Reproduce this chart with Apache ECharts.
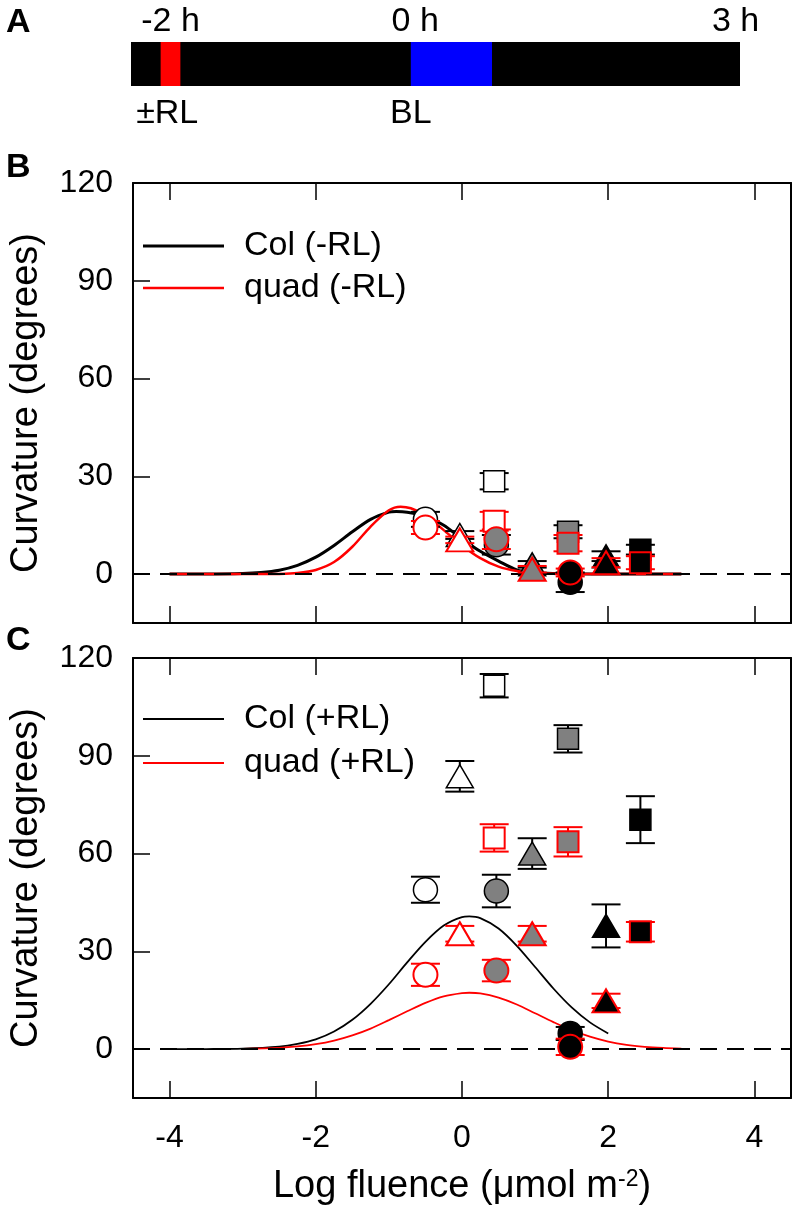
<!DOCTYPE html>
<html><head><meta charset="utf-8">
<script src="https://cdn.jsdelivr.net/npm/echarts@6/dist/echarts.min.js"></script>
<style>html,body{margin:0;padding:0;background:#fff}#c{width:793px;height:1213px}</style>
</head><body><div id="c"></div>
<script>
// ---------- Panel A: light schedule (hours) ----------
const timelineExtent = [-2.55, 3];
const redPulse = [-2.28, -2.10];
const bluePulse = [0, 0.74];
const timeLabelText = ['-2 h', '0 h', '3 h'];
const timeLabelAt = [-2.19, 0.04, 2.96];
const lightLabelText = ['\u00b1RL', 'BL'];
const lightLabelAt = [-2.22, 0.0];

// ---------- Panels B & C ----------
const xTicks = [-4, -2, 0, 2, 4];
const yTicks = [0, 30, 60, 90, 120];
// log fluence of each treatment (open/grey/black circle, triangle, square)
const groupX = [-0.5, -0.03, 0.44, 0.47, 0.96, 1.45, 1.48, 1.97, 2.44];

// B: without red light
const colMinusRL = [16.8, 12.0, 28.5, 9.0, 3.0, 13.0, -2.5, 5.5, 7.5];
const colMinusRLErr = [2.3, 1.2, 2.5, 3.0, 1.0, 2.0, 3.0, 1.5, 1.5];
const quadMinusRL = [14.3, 10.5, 16.2, 10.7, 1.5, 9.5, 0.5, 3.5, 3.5];
const quadMinusRLErr = [2.0, 1.0, 2.9, 3.0, 1.0, 2.5, 1.2, 1.4, 2.0];

// C: with red light
const colPlusRL = [48.9, 83.7, 111.5, 48.5, 60.0, 95.2, 4.8, 37.8, 70.4];
const colPlusRLErr = [4.0, 4.7, 3.6, 5.0, 4.7, 4.2, 2.0, 6.6, 7.2];
const quadPlusRL = [22.8, 35.4, 64.8, 24.1, 35.4, 63.6, 0.7, 14.8, 36.0];
const quadPlusRLErr = [3.4, 2.4, 4.2, 3.3, 2.4, 4.5, 2.5, 2.2, 3.0];

// fitted curves
const fitColMinusX = [-4, -3.5, -3, -2.75, -2.5, -2.25, -2, -1.75, -1.5, -1.25, -1, -0.9, -0.75, -0.5, -0.25, 0, 0.25, 0.5, 0.75, 1, 1.25, 1.5, 2, 3];
const fitColMinusY = [0, 0.01, 0.16, 0.47, 1.2, 2.7, 5.2, 8.8, 13.0, 16.8, 19.0, 19.2, 19.0, 17.8, 15.0, 10.8, 7.0, 4.0, 1.3, 0.5, 0.2, 0.1, 0, 0];
const fitQuadMinusX = [-4, -3, -2.5, -2.25, -2, -1.75, -1.5, -1.25, -1, -0.84, -0.7, -0.5, -0.25, 0, 0.25, 0.5, 0.75, 1, 1.25, 1.5, 3];
const fitQuadMinusY = [0, 0, 0.07, 0.33, 1.26, 3.7, 8.4, 14.6, 19.6, 20.7, 20.2, 18.0, 13.5, 8.8, 4.9, 2.3, 0.95, 0.33, 0.1, 0.03, 0];
const fitColPlusX = [-4, -3.5, -3, -2.5, -2.25, -2, -1.75, -1.5, -1.25, -1, -0.75, -0.5, -0.25, 0, 0.1, 0.25, 0.5, 0.75, 1, 1.25, 1.5, 1.75, 2];
const fitColPlusY = [0, 0.02, 0.14, 0.75, 1.6, 3.0, 5.4, 9.0, 13.9, 19.9, 26.6, 32.9, 37.9, 40.5, 40.7, 40.2, 37.0, 31.7, 25.2, 18.6, 12.8, 8.2, 4.8];
const fitQuadPlusX = [-3, -2.5, -2.25, -2, -1.75, -1.5, -1.25, -1, -0.75, -0.5, -0.25, 0, 0.1, 0.25, 0.5, 0.75, 1, 1.25, 1.5, 1.75, 2, 2.25, 2.5, 2.75, 3];
const fitQuadPlusY = [0.08, 0.41, 0.81, 1.5, 2.6, 4.2, 6.3, 8.9, 11.6, 14.2, 16.2, 17.2, 17.3, 17.1, 15.8, 13.7, 11.0, 8.3, 5.8, 3.8, 2.3, 1.3, 0.7, 0.35, 0.16];

// ---------- styling ----------
const FONT = '"Liberation Sans", Arial, Helvetica, sans-serif';
const RED = '#ff0000';
const markerSymbol = ['circle','triangle','rect','circle','triangle','rect','circle','triangle','rect'];
const markerFill = ['#ffffff','#ffffff','#ffffff','#808080','#808080','#808080','#000000','#000000','#000000'];
const symbolSizeFor = {circle: 24, triangle: [27, 23], rect: 21};

const pairs = (xs, ys) => xs.map((x, i) => [x, ys[i]]);
const markerData = vals => vals.map((v, i) => ({
  value: [groupX[i], v], symbol: markerSymbol[i], symbolSize: symbolSizeFor[markerSymbol[i]],
  itemStyle: {color: markerFill[i]}
}));
const errData = (vals, errs) => vals.map((v, i) => [groupX[i], v - errs[i], v + errs[i]]);

function errSeries(ax, vals, errs, color, lw, z) {
  return {
    type: 'custom', xAxisIndex: ax, yAxisIndex: ax, z: z, silent: true,
    data: errData(vals, errs), encode: {x: 0, y: [1, 2]},
    renderItem: (params, api) => {
      const x = api.value(0);
      const p1 = api.coord([x, api.value(1)]), p2 = api.coord([x, api.value(2)]);
      const hw = 14.5, st = {stroke: color, lineWidth: lw};
      return {type: 'group', children: [
        {type: 'line', shape: {x1: p1[0], y1: p1[1], x2: p2[0], y2: p2[1]}, style: st},
        {type: 'line', shape: {x1: p1[0] - hw, y1: p1[1], x2: p1[0] + hw, y2: p1[1]}, style: st},
        {type: 'line', shape: {x1: p2[0] - hw, y1: p2[1], x2: p2[0] + hw, y2: p2[1]}, style: st}
      ]};
    }
  };
}
function markerSeries(ax, vals, edge, bw, z) {
  return {type: 'scatter', xAxisIndex: ax, yAxisIndex: ax, z: z, silent: true,
    data: markerData(vals), itemStyle: {borderColor: edge, borderWidth: bw, opacity: 1}};
}
function curveSeries(ax, name, xs, ys, color, w) {
  return {type: 'line', name: name, xAxisIndex: ax, yAxisIndex: ax, z: 2, silent: true,
    data: pairs(xs, ys), showSymbol: false, smooth: 0.3, color: color,
    lineStyle: {color: color, width: w}, itemStyle: {color: color}};
}
function zeroSeries(ax) {
  return {type: 'line', xAxisIndex: ax, yAxisIndex: ax, z: 1, data: [], silent: true,
    markLine: {silent: true, symbol: 'none', label: {show: false}, animation: false,
      lineStyle: {color: '#000', width: 2, type: [17, 10]}, data: [{yAxis: 0}]}};
}
function xAx(grid, pos, labels) {
  return {type: 'value', gridIndex: grid, position: pos, min: -4.5, max: 4.5,
    axisLine: {show: true, onZero: false, lineStyle: {color: '#000', width: 2}},
    axisTick: {show: true, inside: true, length: 17, customValues: xTicks, lineStyle: {color: '#000', width: 1.5}},
    axisLabel: {show: labels, customValues: xTicks, fontSize: 32, color: '#000', fontFamily: FONT, margin: 24},
    splitLine: {show: false},
    name: labels ? 'Log fluence (\u03bcmol m{sup|-2})' : '',
    nameLocation: 'middle', nameGap: 70,
    nameTextStyle: {fontSize: 38, color: '#000', fontFamily: FONT,
      rich: {sup: {fontSize: 23, color: '#000', fontFamily: FONT, verticalAlign: 'top', lineHeight: 23}}}};
}
function yAx(grid, pos, main) {
  return {type: 'value', gridIndex: grid, position: pos, min: -15, max: 120,
    axisLine: {show: true, onZero: false, lineStyle: {color: '#000', width: 2}},
    axisTick: {show: main, inside: true, length: 17, customValues: yTicks, lineStyle: {color: '#000', width: 1.5}},
    axisLabel: {show: main, customValues: yTicks, fontSize: 32, color: '#000', fontFamily: FONT, margin: 20},
    splitLine: {show: false},
    name: main ? 'Curvature (degrees)' : '', nameLocation: 'middle', nameRotate: 90, nameGap: 87,
    nameTextStyle: {fontSize: 38, color: '#000', fontFamily: FONT}};
}
function legendItem(name, color, h, centerY) {
  return {data: [name], left: 143, top: centerY - 17, padding: 0, icon: 'rect',
    itemWidth: 81, itemHeight: h, selectedMode: false,
    itemStyle: {color: color, borderWidth: 0}, lineStyle: {width: 0},
    textStyle: {fontSize: 34, color: '#000', fontFamily: FONT, lineHeight: 34, padding: [0, 0, 0, 15]}};
}

// ---------- panel A series ----------
const scheduleBlocks = [[timelineExtent[0], timelineExtent[1], '#000000'],
                        [redPulse[0], redPulse[1], RED], [bluePulse[0], bluePulse[1], '#0000ff']];
const scheduleSeries = {
  type: 'custom', xAxisIndex: 0, yAxisIndex: 0, silent: true, z: 2,
  data: scheduleBlocks.map(b => [b[0], b[1]]),
  renderItem: (params, api) => {
    const cs = params.coordSys;
    const a = api.coord([api.value(0), 0])[0], b = api.coord([api.value(1), 0])[0];
    return {type: 'rect', shape: {x: a, y: cs.y, width: b - a, height: cs.height},
      style: {fill: scheduleBlocks[params.dataIndex][2]}};
  }
};
function textSeries(texts, at, dy) {
  return {type: 'custom', xAxisIndex: 0, yAxisIndex: 0, silent: true, z: 3,
    data: at.map(t => [t, 0]),
    renderItem: (params, api) => {
      const cs = params.coordSys;
      const x = api.coord([api.value(0), 0])[0];
      const y = dy < 0 ? cs.y + dy : cs.y + cs.height + dy;
      return {type: 'text', x: x, y: y, style: {text: texts[params.dataIndex], fill: '#000',
        font: '34px ' + FONT, align: 'center', verticalAlign: 'middle'}};
    }};
}

const option = {
  animation: false,
  backgroundColor: '#fff',
  title: [
    {text: 'A', left: 6, top: 6, padding: 0, textStyle: {fontSize: 34, fontWeight: 'bold', color: '#000', fontFamily: FONT}},
    {text: 'B', left: 6, top: 151, padding: 0, textStyle: {fontSize: 34, fontWeight: 'bold', color: '#000', fontFamily: FONT}},
    {text: 'C', left: 6, top: 624, padding: 0, textStyle: {fontSize: 34, fontWeight: 'bold', color: '#000', fontFamily: FONT}}
  ],
  legend: [
    legendItem('Col (-RL)', '#000', 3, 246),
    legendItem('quad (-RL)', RED, 2.5, 288),
    legendItem('Col (+RL)', '#000', 2, 719),
    legendItem('quad (+RL)', RED, 2, 763)
  ],
  grid: [
    {left: 131, top: 42, width: 609, height: 44},
    {left: 127, top: 183, width: 664, height: 440},
    {left: 127, top: 658, width: 664, height: 440}
  ],
  xAxis: [
    {type: 'value', gridIndex: 0, min: timelineExtent[0], max: timelineExtent[1], show: false},
    xAx(1, 'bottom', false), xAx(2, 'bottom', true),
    xAx(1, 'top', false), xAx(2, 'top', false)
  ],
  yAxis: [
    {type: 'value', gridIndex: 0, min: 0, max: 1, show: false},
    yAx(1, 'left', true), yAx(2, 'left', true),
    yAx(1, 'right', false), yAx(2, 'right', false)
  ],
  series: [
    scheduleSeries,
    textSeries(timeLabelText, timeLabelAt, -20),
    textSeries(lightLabelText, lightLabelAt, 28),
    // B
    zeroSeries(1),
    curveSeries(1, 'Col (-RL)', fitColMinusX, fitColMinusY, '#000', 3),
    curveSeries(1, 'quad (-RL)', fitQuadMinusX, fitQuadMinusY, RED, 2.5),
    errSeries(1, colMinusRL, colMinusRLErr, '#000', 2, 3),
    markerSeries(1, colMinusRL, '#000', 1.5, 4),
    errSeries(1, quadMinusRL, quadMinusRLErr, RED, 2, 5),
    markerSeries(1, quadMinusRL, RED, 2, 6),
    // C
    zeroSeries(2),
    curveSeries(2, 'Col (+RL)', fitColPlusX, fitColPlusY, '#000', 1.8),
    curveSeries(2, 'quad (+RL)', fitQuadPlusX, fitQuadPlusY, RED, 1.8),
    errSeries(2, colPlusRL, colPlusRLErr, '#000', 2, 3),
    markerSeries(2, colPlusRL, '#000', 1.5, 4),
    errSeries(2, quadPlusRL, quadPlusRLErr, RED, 2, 5),
    markerSeries(2, quadPlusRL, RED, 2, 6)
  ]
};
const chart = echarts.init(document.getElementById('c'), null, {renderer: 'canvas', width: 793, height: 1213});
chart.setOption(option);
</script></body></html>
